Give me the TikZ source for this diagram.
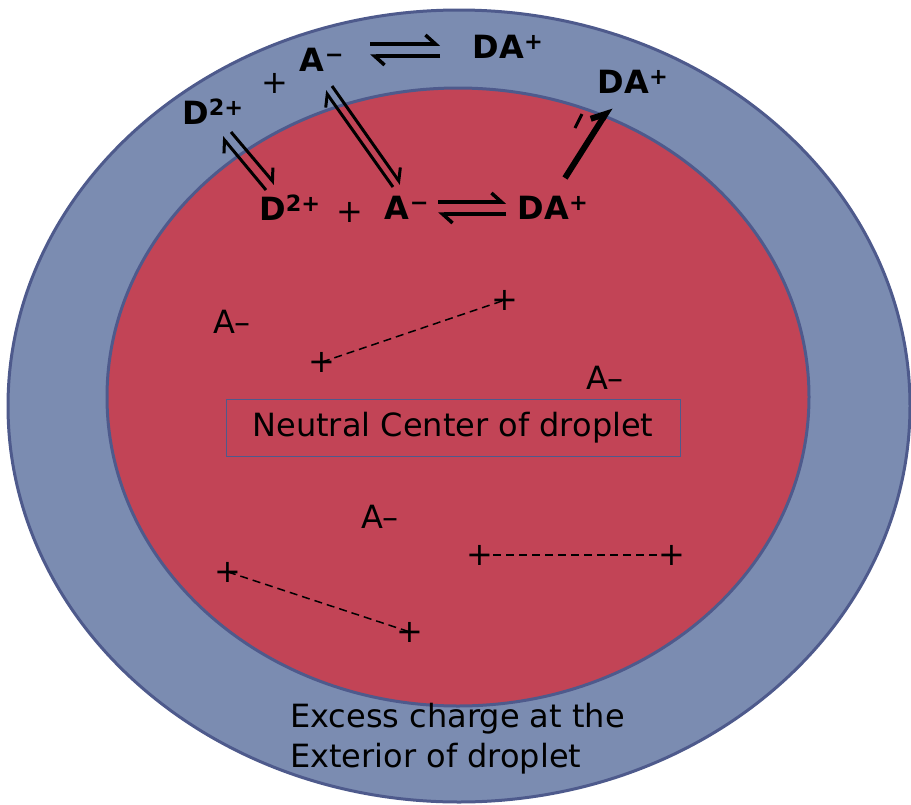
\documentclass[tikz,border=0pt]{standalone}
\usepackage{fontspec}
\setmainfont{DejaVu Sans}
\usetikzlibrary{arrows.meta}
\definecolor{shellblue}{HTML}{7B8CB1}
\definecolor{corered}{HTML}{C24456}
\definecolor{rimblue}{HTML}{4E5A8C}
\begin{document}
\begin{tikzpicture}[x=1pt,y=-1pt,
  chem/.style={font=\fontsize{32}{36}\selectfont\bfseries},
  lbl/.style={font=\fontsize{32}{40}\selectfont},
  hup/.style={line width=3.5pt,-{Straight Barb[left,length=10pt,width=18pt]}},
  pair/.style={dash pattern=on 8pt off 5pt,line width=1.5pt},
  tick/.style={line width=1pt}]
  \useasboundingbox (0,0) rectangle (911,804);
  \fill[white] (0,0) rectangle (911,804);
  % droplet
  \draw[rimblue,line width=3pt,fill=shellblue] (459,406) ellipse (451 and 396);
  \draw[rimblue,line width=3pt,fill=corered] (458,397) ellipse (351 and 309);
  % surface layer
  \node[chem] (am1) at (322,60) {A\textsuperscript{−}};
  \node[lbl] (p1) at (275,83) {+};
  \node[chem] (da1) at (508,47) {DA\textsuperscript{+}};
  \node[chem] (da2) at (633,82) {DA\textsuperscript{+}};
  \node[chem] (d1) at (213,112) {D\textsuperscript{2+}};
  % interior
  \node[chem] (d2) at (290,208) {D\textsuperscript{2+}};
  \node[lbl] (p2) at (350,212) {+};
  \node[chem] (am2) at (407,208) {A\textsuperscript{−}};
  \node[chem] (da3) at (553,208) {DA\textsuperscript{+}};
  % equilibria
  \draw[hup] (370,44) -- (440,44);
  \draw[hup] (440,56) -- (370,56);
  \draw[hup] (438,202) -- (506,202);
  \draw[hup] (506,214) -- (438,214);
  \draw[hup,line width=3pt] (266,190) -- (222,137);
  \draw[hup,line width=3pt] (231,132) -- (275,184);
  \draw[hup,line width=3pt] (332,86) -- (401,184);
  \draw[hup,line width=3pt] (393,187) -- (325,91);
  \draw[line width=6pt,-{Straight Barb[left,length=12pt,width=20pt]}] (565,178) -- (610,107);
  \draw[line width=3pt] (575,128) -- (582,114);
  % ion pairs
  \node[lbl] (a1) at (232,322) {A–};
  \node[lbl] (a2) at (605,378) {A–};
  \node[lbl] (a3) at (380,517) {A–};
  \coordinate (q1) at (322,362); \coordinate (q2) at (505,300);
  \coordinate (q3) at (228,572); \coordinate (q4) at (410,632);
  \coordinate (q5) at (480,555); \coordinate (q6) at (672,555);
  \foreach \s/\e in {q1/q2,q3/q4,q5/q6}{
    \draw[pair] (\s) -- (\e);
    \node[lbl,inner sep=0pt] at (\s) {+};
    \node[lbl,inner sep=0pt] at (\e) {+};
  }
  \node[lbl,draw=rimblue,line width=1pt,minimum width=454pt,minimum height=57pt] (ctr) at (453,428) {Neutral Center of droplet};
  \node[lbl,align=left,anchor=north west,inner sep=0pt] (ext) at (290,703) {Excess charge at the\\Exterior of droplet};
\end{tikzpicture}
\end{document}
